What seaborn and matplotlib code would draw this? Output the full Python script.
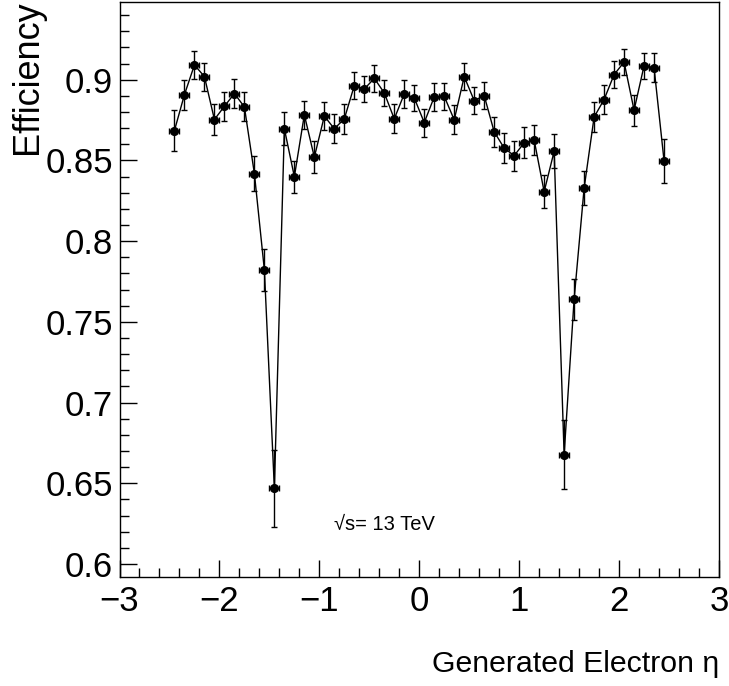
import matplotlib
matplotlib.use("Agg")
import matplotlib.pyplot as plt
from matplotlib.ticker import MultipleLocator
import seaborn as sns
import pandas as pd

# ---- data ----
eta = [-2.45, -2.35, -2.25, -2.15, -2.05, -1.95, -1.85, -1.75, -1.65, -1.55,
       -1.45, -1.35, -1.25, -1.15, -1.05, -0.95, -0.85, -0.75, -0.65, -0.55,
       -0.45, -0.35, -0.25, -0.15, -0.05, 0.05, 0.15, 0.25, 0.35, 0.45,
       0.55, 0.65, 0.75, 0.85, 0.95, 1.05, 1.15, 1.25, 1.35, 1.45,
       1.55, 1.65, 1.75, 1.85, 1.95, 2.05, 2.15, 2.25, 2.35, 2.45]
efficiency = [0.8685, 0.8907, 0.9091, 0.9019, 0.8753, 0.8835, 0.8914, 0.8831, 0.8418, 0.7821,
              0.6469, 0.8696, 0.8399, 0.8782, 0.8520, 0.8774, 0.8696, 0.8757, 0.8963, 0.8942,
              0.9008, 0.8918, 0.8757, 0.8912, 0.8887, 0.8734, 0.8893, 0.8897, 0.8751, 0.9019,
              0.8870, 0.8901, 0.8677, 0.8576, 0.8529, 0.8609, 0.8626, 0.8306, 0.8556, 0.6677,
              0.7640, 0.8327, 0.8768, 0.8877, 0.9031, 0.9109, 0.8811, 0.9086, 0.9074, 0.8498]
eff_err = [0.0130, 0.0093, 0.0086, 0.0087, 0.0094, 0.0090, 0.0090, 0.0090, 0.0108, 0.0129,
           0.0238, 0.0103, 0.0100, 0.0087, 0.0100, 0.0088, 0.0090, 0.0093, 0.0084, 0.0082,
           0.0084, 0.0082, 0.0090, 0.0086, 0.0082, 0.0087, 0.0085, 0.0085, 0.0090, 0.0083,
           0.0085, 0.0084, 0.0092, 0.0095, 0.0094, 0.0095, 0.0095, 0.0104, 0.0106, 0.0214,
           0.0127, 0.0106, 0.0093, 0.0090, 0.0085, 0.0082, 0.0096, 0.0082, 0.0088, 0.0136]
eta_bin_half_width = 0.05

x_label = "Generated Electron η"
y_label = "Efficiency"
energy_label = "√s= 13 TeV"

df = pd.DataFrame({"eta": eta, "eff": efficiency, "err": eff_err})

# ---- style ----
sns.set_theme(style="ticks")
plt.rcParams["font.family"] = ["Liberation Sans", "DejaVu Sans"]

fig = plt.figure(figsize=(7.29, 6.86), dpi=100)
ax = fig.add_axes([119.5 / 729, 1 - 576.7 / 686, (719 - 119.5) / 729, (576.7 - 2) / 686])

ax.errorbar(df["eta"], df["eff"], yerr=df["err"], xerr=eta_bin_half_width,
            fmt="none", ecolor="black", elinewidth=1.0, capsize=2.2, capthick=1.0, zorder=2)
sns.lineplot(data=df, x="eta", y="eff", ax=ax, color="black", linewidth=1.0,
             marker="o", markersize=6.6, markeredgewidth=0, markerfacecolor="black",
             errorbar=None, sort=False, zorder=3)

ax.set_xlim(-3, 3)
ax.set_ylim(0.5921, 0.9481)

ax.xaxis.set_major_locator(MultipleLocator(1))
ax.xaxis.set_minor_locator(MultipleLocator(0.2))
ax.yaxis.set_major_locator(MultipleLocator(0.05))
ax.yaxis.set_minor_locator(MultipleLocator(0.01))
ax.yaxis.set_major_formatter(plt.FuncFormatter(lambda v, p: f"{v:.2f}".rstrip("0")))

ax.tick_params(axis="both", which="both", direction="in", top=False, right=False,
               color="black", width=1.0, labelsize=25, labelcolor="black")
ax.tick_params(axis="both", which="major", length=12.5)
ax.tick_params(axis="both", which="minor", length=6.2)
ax.tick_params(axis="x", which="major", pad=6)
ax.tick_params(axis="y", which="major", pad=4.5)

for s in ax.spines.values():
    s.set_visible(True)
    s.set_color("black")
    s.set_linewidth(1.0)

ax.set_xlabel(x_label, fontsize=21.8, color="black", ha="right", va="center")
ax.xaxis.set_label_coords(1.0, (576.7 - 664) / 574.7)
ax.set_ylabel(y_label, fontsize=26, color="black", ha="right", va="center")
ax.yaxis.set_label_coords((28 - 119.5) / 599.5, (576.7 - 0.5) / 574.7)

ax.text(-0.85, 0.6211, energy_label, fontsize=14.5, color="black", ha="left", va="baseline")

fig.savefig("out.png", dpi=100)
